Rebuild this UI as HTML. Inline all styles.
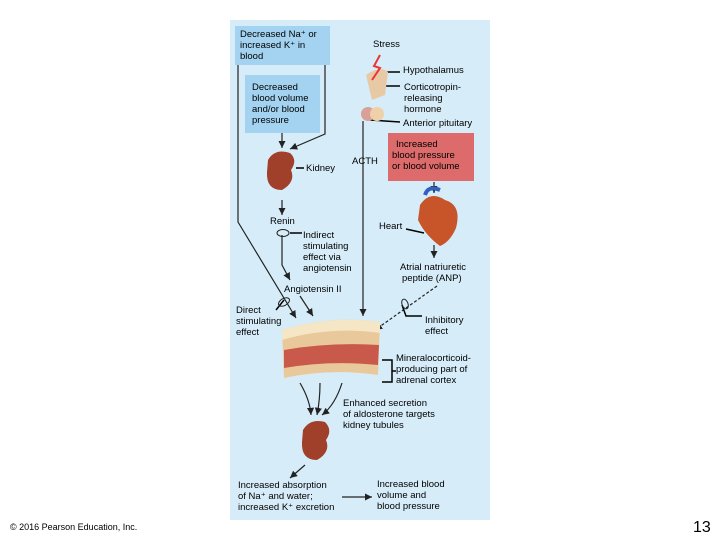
<!DOCTYPE html>
<html><head><style>
body{margin:0;background:#fff;width:720px;height:540px;overflow:hidden;font-family:"Liberation Sans",sans-serif}
</style></head><body>
<svg width="720" height="540" xmlns="http://www.w3.org/2000/svg" font-family="Liberation Sans, sans-serif" font-size="9.5">
<defs><marker id="a" markerWidth="8" markerHeight="8" refX="6" refY="3" orient="auto"><path d="M0,0L6,3L0,6z" fill="#222"/></marker></defs>
<rect x="230" y="20" width="260" height="500" fill="#d6edf9"/>
<rect x="235" y="26" width="95" height="39" fill="#a3d3f0"/>
<text x="240" y="37">Decreased Na⁺ or</text><text x="240" y="48">increased K⁺ in</text><text x="240" y="59">blood</text>
<rect x="245" y="75" width="75" height="58" fill="#a3d3f0"/>
<text x="252" y="90">Decreased</text><text x="252" y="101">blood volume</text><text x="252" y="112">and/or blood</text><text x="252" y="123">pressure</text>
<g stroke="#222" fill="none" stroke-width="1.2">
<path d="M238,65V222L296,318" marker-end="url(#a)"/>
<path d="M325,65V134L290,149" marker-end="url(#a)"/>
<path d="M282,133V148" marker-end="url(#a)"/>
<path d="M282,200V215" marker-end="url(#a)"/>
<path d="M282,235V265L290,280" marker-end="url(#a)"/>
<path d="M300,296L313,316" marker-end="url(#a)"/>
<path d="M363,121V316" marker-end="url(#a)"/>
<path d="M434,182V193" marker-end="url(#a)"/>
<path d="M434,245V258" marker-end="url(#a)"/>
<path d="M437,286L375,330" stroke-dasharray="3,2" marker-end="url(#a)"/>
<path d="M300,383Q310,400 311,415" marker-end="url(#a)"/>
<path d="M320,383Q320,400 317,415" marker-end="url(#a)"/>
<path d="M342,383Q335,405 322,415" marker-end="url(#a)"/>
<path d="M305,465L290,478" marker-end="url(#a)"/>
<path d="M342,497H372" marker-end="url(#a)"/>
</g>
<g stroke="#000" stroke-width="1.5" fill="none">
<path d="M296,168H304"/><path d="M382,72H400"/><path d="M372,86L400,86"/><path d="M370,120L400,122"/>
<path d="M290,233H302"/><path d="M406,229L424,233"/><path d="M276,310L284,300"/><path d="M402,305L406,316H422"/>
<path d="M382,360H392V382H382M392,371H396"/>
</g>
<ellipse cx="283" cy="233" rx="6" ry="3.5" fill="none" stroke="#222"/>
<ellipse cx="284" cy="302" rx="6" ry="3.5" fill="none" stroke="#222" transform="rotate(-30 284 302)"/>
<ellipse cx="405" cy="304" rx="3" ry="5" fill="none" stroke="#222" transform="rotate(-20 405 304)"/>
<path d="M268,160Q275,148 290,153Q298,160 291,170Q296,182 282,190Q266,190 267,172Z" fill="#a0402a"/>
<path d="M303,430Q310,418 325,422Q333,430 326,440Q331,452 317,460Q301,460 302,442Z" fill="#a0402a"/>
<path d="M366,75Q380,65 388,72L385,95L372,100Z" fill="#e8c9a6"/>
<circle cx="368" cy="114" r="7" fill="#d8a096"/><circle cx="377" cy="114" r="7" fill="#f0d0a8"/>
<path d="M380,55L374,66L380,68L372,80" stroke="#e33" stroke-width="2" fill="none"/>
<rect x="388" y="133" width="86" height="48" fill="#de6b6b"/>
<text x="396" y="147">Increased</text><text x="392" y="158">blood pressure</text><text x="392" y="169">or blood volume</text>
<path d="M420,205Q430,190 445,200Q462,205 456,228Q450,242 440,246Q425,235 418,220Z" fill="#c8552a"/>
<path d="M425,195Q428,185 440,190" stroke="#3060c0" stroke-width="4" fill="none"/>
<path d="M282,330Q330,315 380,322L378,375Q330,368 284,378Z" fill="#e9c99b"/>
<path d="M284,350Q330,342 379,345L378,365Q330,360 284,368Z" fill="#c9594a"/>
<path d="M282,330Q330,315 380,322L380,333Q330,326 282,340Z" fill="#f5e6c5"/>
<text x="373" y="47">Stress</text>
<text x="403" y="73">Hypothalamus</text>
<text x="404" y="90">Corticotropin-</text><text x="404" y="101">releasing</text><text x="404" y="112">hormone</text>
<text x="403" y="126">Anterior pituitary</text>
<text x="352" y="164">ACTH</text>
<text x="306" y="171">Kidney</text>
<text x="270" y="224">Renin</text>
<text x="379" y="229">Heart</text>
<text x="303" y="238">Indirect</text><text x="303" y="249">stimulating</text><text x="303" y="260">effect via</text><text x="303" y="271">angiotensin</text>
<text x="400" y="270">Atrial natriuretic</text><text x="402" y="281">peptide (ANP)</text>
<text x="284" y="292">Angiotensin II</text>
<text x="236" y="313">Direct</text><text x="236" y="324">stimulating</text><text x="236" y="335">effect</text>
<text x="425" y="323">Inhibitory</text><text x="425" y="334">effect</text>
<text x="396" y="361">Mineralocorticoid-</text><text x="396" y="372">producing part of</text><text x="396" y="383">adrenal cortex</text>
<text x="343" y="406">Enhanced secretion</text><text x="343" y="417">of aldosterone targets</text><text x="343" y="428">kidney tubules</text>
<text x="238" y="488">Increased absorption</text><text x="238" y="499">of Na⁺ and water;</text><text x="238" y="510">increased K⁺ excretion</text>
<text x="377" y="487">Increased blood</text><text x="377" y="498">volume and</text><text x="377" y="509">blood pressure</text>
<text x="10" y="530" font-size="9">© 2016 Pearson Education, Inc.</text>
<text x="693" y="532" font-size="16">13</text>
</svg>
</body></html>
